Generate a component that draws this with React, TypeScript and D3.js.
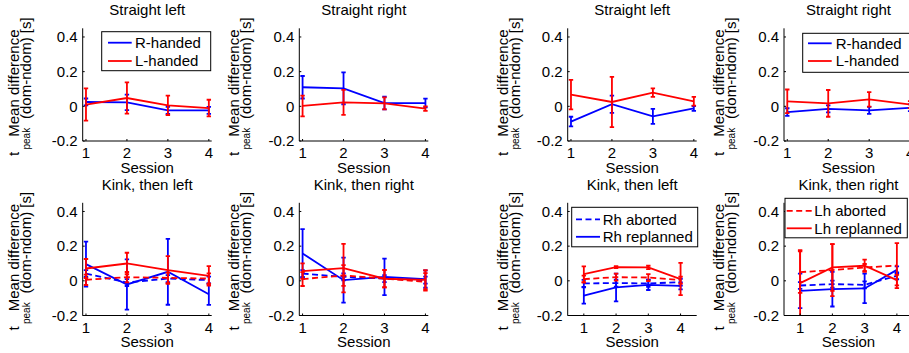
import React from 'react';
import * as d3 from 'd3';

// ---------- data ----------
const sessions = [1, 2, 3, 4];
const yTicks = [-0.2, 0, 0.2, 0.4];
const yTickLabels = ['-0.2', '0', '0.2', '0.4'];
const xTickLabels = ['1', '2', '3', '4'];

// Group A (left block), straight left
const aSL_R = [0.025, 0.023, -0.023, -0.023];
const aSL_Rerr = [0.02, 0.045, 0.02, 0.02];
const aSL_L = [0.01, 0.048, 0.006, -0.01];
const aSL_Lerr = [0.093, 0.09, 0.056, 0.048];
// Group A, straight right
const aSR_R = [0.11, 0.104, 0.019, 0.019];
const aSR_Rerr = [0.065, 0.092, 0.037, 0.025];
const aSR_L = [0.002, 0.023, 0.017, -0.013];
const aSR_Lerr = [0.06, 0.072, 0.035, 0.013];
// Group A, kink then left
const aKL_RhAb = [0.042, -0.01, 0.013, 0.004];
const aKL_RhAbErr = [0.02, 0.02, 0.02, 0.02];
const aKL_RhRe = [0.096, -0.021, 0.052, -0.077];
const aKL_RhReErr = [0.13, 0.145, 0.19, 0.062];
const aKL_LhAb = [0.006, 0.021, 0.017, 0.013];
const aKL_LhAbErr = [0.03, 0.03, 0.03, 0.03];
const aKL_LhRe = [0.071, 0.1, 0.062, 0.029];
const aKL_LhReErr = [0.055, 0.062, 0.08, 0.056];
// Group A, kink then right
const aKR_RhAb = [0.042, 0.023, 0.013, 0.004];
const aKR_RhAbErr = [0.02, 0.02, 0.02, 0.02];
const aKR_RhRe = [0.158, 0.004, 0.023, 0.01];
const aKR_RhReErr = [0.14, 0.13, 0.105, 0.05];
const aKR_LhAb = [0.01, 0.031, 0.013, -0.006];
const aKR_LhAbErr = [0.04, 0.06, 0.05, 0.05];
const aKR_LhRe = [0.056, 0.073, 0.012, 0.006];
const aKR_LhReErr = [0.045, 0.14, 0.05, 0.055];

// Group B (right block), straight left
const bSL_R = [-0.088, 0.012, -0.058, -0.012];
const bSL_Rerr = [0.028, 0.05, 0.043, 0.014];
const bSL_L = [0.067, 0.025, 0.079, 0.029];
const bSL_Lerr = [0.085, 0.145, 0.025, 0.025];
// Group B, straight right
const bSR_R = [-0.033, -0.015, -0.023, -0.008];
const bSR_Rerr = [0.022, 0.02, 0.02, 0.02];
const bSR_L = [0.029, 0.017, 0.04, 0.01];
const bSR_Lerr = [0.068, 0.077, 0.042, 0.02];
// Group B, kink then left
const bKL_RhAb = [-0.015, -0.013, -0.015, -0.008];
const bKL_RhAbErr = [0.02, 0.02, 0.02, 0.02];
const bKL_RhRe = [-0.085, -0.038, -0.023, -0.029];
const bKL_RhReErr = [0.047, 0.08, 0.03, 0.02];
const bKL_LhAb = [0.01, 0.021, 0.019, 0.004];
const bKL_LhAbErr = [0.02, 0.02, 0.02, 0.02];
const bKL_LhRe = [0.038, 0.079, 0.077, 0.01];
const bKL_LhReErr = [0.045, 0.006, 0.01, 0.093];
// Group B, kink then right
const bKR_RhAb = [-0.027, -0.019, -0.023, 0.029];
const bKR_RhAbErr = [0.02, 0.02, 0.02, 0.02];
const bKR_RhRe = [-0.058, -0.048, -0.044, 0.063];
const bKR_RhReErr = [0.1, 0.1, 0.085, 0.02];
const bKR_LhAb = [0.05, 0.062, 0.077, 0.088];
const bKR_LhAbErr = [0.12, 0.15, 0.02, 0.13];
const bKR_LhRe = [-0.013, 0.077, 0.087, 0.004];
const bKR_LhReErr = [0.19, 0.135, 0.035, 0.03];

// ---------- layout ----------
const W = 909;
const H = 353;
const FONT = '"Liberation Sans", Arial, Helvetica, sans-serif';
const colLefts = [82.7, 299.3, 567.7, 784];
const colLabelShift = [-3.3, 0, 0, 0];
const rowTops = [28.3, 202.8];
const AX_W = 129;
const AX_H = 112.7;
const BLUE = '#0000ff';
const RED = '#ff0000';

type Series = { vals: number[]; err: number[]; color: string; dash: boolean };
type LegendSpec = {
  box: [number, number, number, number];
  rows: number[];
  line: [number, number];
  textX: number;
  entries: { label: string; color: string; dash: boolean }[];
};
type Panel = {
  col: number;
  row: number;
  title: string;
  xDom: [number, number];
  series: Series[];
  legend?: LegendSpec;
};

const s = (vals: number[], err: number[], color: string, dash: boolean): Series => ({ vals, err, color, dash });

const panels: Panel[] = [
  {
    col: 0, row: 0, title: 'Straight left', xDom: [0.92, 4.07],
    series: [s(aSL_R, aSL_Rerr, BLUE, false), s(aSL_L, aSL_Lerr, RED, false)],
    legend: {
      box: [19, 3.4, 128, 42.4], rows: [14.4, 32.7], line: [25.3, 49], textX: 52.3,
      entries: [{ label: 'R-handed', color: BLUE, dash: false }, { label: 'L-handed', color: RED, dash: false }],
    },
  },
  {
    col: 1, row: 0, title: 'Straight right', xDom: [0.92, 4.07],
    series: [s(aSR_R, aSR_Rerr, BLUE, false), s(aSR_L, aSR_Lerr, RED, false)],
  },
  {
    col: 0, row: 1, title: 'Kink, then left', xDom: [0.92, 4.07],
    series: [
      s(aKL_RhAb, aKL_RhAbErr, BLUE, true), s(aKL_RhRe, aKL_RhReErr, BLUE, false),
      s(aKL_LhAb, aKL_LhAbErr, RED, true), s(aKL_LhRe, aKL_LhReErr, RED, false),
    ],
  },
  {
    col: 1, row: 1, title: 'Kink, then right', xDom: [0.92, 4.07],
    series: [
      s(aKR_RhAb, aKR_RhAbErr, BLUE, true), s(aKR_RhRe, aKR_RhReErr, BLUE, false),
      s(aKR_LhAb, aKR_LhAbErr, RED, true), s(aKR_LhRe, aKR_LhReErr, RED, false),
    ],
  },
  {
    col: 2, row: 0, title: 'Straight left', xDom: [0.92, 4.07],
    series: [s(bSL_R, bSL_Rerr, BLUE, false), s(bSL_L, bSL_Lerr, RED, false)],
  },
  {
    col: 3, row: 0, title: 'Straight right', xDom: [0.92, 4.07],
    series: [s(bSR_R, bSR_Rerr, BLUE, false), s(bSR_L, bSR_Lerr, RED, false)],
    legend: {
      box: [18.7, 5, 128, 44], rows: [15, 32.7], line: [24, 47.7], textX: 51.7,
      entries: [{ label: 'R-handed', color: BLUE, dash: false }, { label: 'L-handed', color: RED, dash: false }],
    },
  },
  {
    col: 2, row: 1, title: 'Kink, then left', xDom: [0.5, 4.5],
    series: [
      s(bKL_RhAb, bKL_RhAbErr, BLUE, true), s(bKL_RhRe, bKL_RhReErr, BLUE, false),
      s(bKL_LhAb, bKL_LhAbErr, RED, true), s(bKL_LhRe, bKL_LhReErr, RED, false),
    ],
    legend: {
      box: [4, 4.5, 130, 44], rows: [16.5, 34], line: [8.3, 32.3], textX: 35,
      entries: [{ label: 'Rh aborted', color: BLUE, dash: true }, { label: 'Rh replanned', color: BLUE, dash: false }],
    },
  },
  {
    col: 3, row: 1, title: 'Kink, then right', xDom: [0.5, 4.5],
    series: [
      s(bKR_RhAb, bKR_RhAbErr, BLUE, true), s(bKR_RhRe, bKR_RhReErr, BLUE, false),
      s(bKR_LhAb, bKR_LhAbErr, RED, true), s(bKR_LhRe, bKR_LhReErr, RED, false),
    ],
    legend: {
      box: [1, -4.5, 123.3, 35], rows: [8, 25.5], line: [2.7, 27.7], textX: 30.3,
      entries: [{ label: 'Lh aborted', color: RED, dash: true }, { label: 'Lh replanned', color: RED, dash: false }],
    },
  },
];

const DASH = '6,3.5';
const LW = 1.8;

function PanelView({ p, idx }: { p: Panel; idx: number }) {
  const L = colLefts[p.col];
  const T = rowTops[p.row];
  const B = T + AX_H;
  const R = L + AX_W;
  const LS = L + colLabelShift[p.col];
  const x = d3.scaleLinear().domain(p.xDom).range([L, R]);
  const y = d3.scaleLinear().domain([-0.2, 0.45]).range([B, T]);
  const line = d3.line<number>().x((_, i) => x(sessions[i])).y((v) => y(v));
  const clipId = `clip${idx}`;
  const cap = 2.2;
  return (
    <g>
      <defs>
        <clipPath id={clipId}>
          <rect x={L - 4} y={T} width={AX_W + 8} height={AX_H} />
        </clipPath>
      </defs>
      {/* title */}
      <text x={(L + R) / 2} y={T - 13} textAnchor="middle" fontSize={15}>{p.title}</text>
      {/* data */}
      <g clipPath={`url(#${clipId})`}>
        {p.series.map((se, si) => (
          <g key={si}>
            <path d={line(se.vals) || ''} fill="none" stroke={se.color} strokeWidth={LW}
              strokeDasharray={se.dash ? DASH : undefined} />
            {se.vals.map((v, i) => {
              const cx = x(sessions[i]);
              const y0 = y(v - se.err[i]);
              const y1 = y(v + se.err[i]);
              return (
                <g key={i} stroke={se.color} strokeWidth={LW} fill="none">
                  <line x1={cx} x2={cx} y1={y0} y2={y1} />
                  <line x1={cx - cap} x2={cx + cap} y1={y0} y2={y0} />
                  <line x1={cx - cap} x2={cx + cap} y1={y1} y2={y1} />
                </g>
              );
            })}
          </g>
        ))}
      </g>
      {/* axes */}
      <line x1={L} x2={L} y1={T} y2={B} stroke="#000" strokeWidth={1} />
      <line x1={L} x2={R} y1={B} y2={B} stroke="#000" strokeWidth={1} />
      {yTicks.map((t, i) => (
        <g key={`y${i}`}>
          <line x1={L} x2={L + 2} y1={y(t)} y2={y(t)} stroke="#000" strokeWidth={1} />
          <text x={L - 5} y={y(t) + 5.3} textAnchor="end" fontSize={15}>{yTickLabels[i]}</text>
        </g>
      ))}
      {sessions.map((t, i) => (
        <g key={`x${i}`}>
          <line x1={x(t)} x2={x(t)} y1={B} y2={B - 2} stroke="#000" strokeWidth={1} />
          <text x={x(t)} y={B + 17.3} textAnchor="middle" fontSize={15}>{xTickLabels[i]}</text>
        </g>
      ))}
      <text x={(L + R) / 2} y={B + 31.5} textAnchor="middle" fontSize={15}>Session</text>
      {/* y label */}
      <text transform={`translate(${LS - 60},${(T + B) / 2 - 1.5}) rotate(-90)`} textAnchor="middle" fontSize={15}>
        Mean difference
      </text>
      <text transform={`translate(${LS - 60},${B + 15}) rotate(-90)`} textAnchor="start" fontSize={15}>t</text>
      <text transform={`translate(${LS - 49},${B + 8.5}) rotate(-90)`} textAnchor="start" fontSize={10}>peak</text>
      <text transform={`translate(${LS - 48},${B - 22}) rotate(-90)`} textAnchor="start" fontSize={15}>
        (dom-ndom) [s]
      </text>
      {/* legend */}
      {p.legend && (
        <g>
          <rect x={L + p.legend.box[0]} y={T + p.legend.box[1]}
            width={p.legend.box[2] - p.legend.box[0]} height={p.legend.box[3] - p.legend.box[1]}
            fill="#fff" stroke="#000" strokeWidth={1} />
          {p.legend.entries.map((e, i) => (
            <g key={i}>
              <line x1={L + p.legend!.line[0]} x2={L + p.legend!.line[1]}
                y1={T + p.legend!.rows[i]} y2={T + p.legend!.rows[i]}
                stroke={e.color} strokeWidth={LW} strokeDasharray={e.dash ? DASH : undefined} />
              <text x={L + p.legend!.textX} y={T + p.legend!.rows[i] + 5.3} fontSize={15}>{e.label}</text>
            </g>
          ))}
        </g>
      )}
    </g>
  );
}

export default function App() {
  return (
    <svg width={W} height={H} viewBox={`0 0 ${W} ${H}`}
      style={{ position: 'absolute', left: 0, top: 0, background: '#fff' }}
      fontFamily={FONT} fill="#000">
      <rect x={0} y={0} width={W} height={H} fill="#fff" />
      {panels.map((p, i) => (
        <PanelView key={i} p={p} idx={i} />
      ))}
    </svg>
  );
}
